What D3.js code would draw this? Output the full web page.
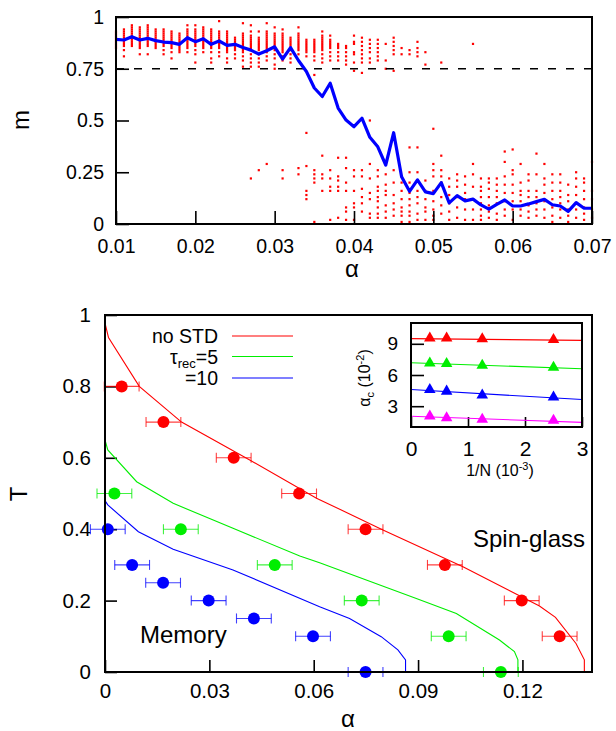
<!DOCTYPE html>
<html>
<head>
<meta charset="utf-8">
<script src="https://cdn.jsdelivr.net/npm/d3@7"></script>
<style>
  body { margin: 0; background: #fff; }
  text { font-family: "Liberation Sans", Arial, Helvetica, sans-serif; }
</style>
</head>
<body>
<svg id="fig" width="616" height="731"></svg>
<script>
// ---- top panel: m vs alpha (alpha in units of 1e-3) ----
var alphaK = [10,11,12,13,14,15,16,17,18,19,20,21,22,23,24,25,26,27,28,29,30,
              31,32,33,34,35,36,37,38,39,40,41,42,43,44,45,46,47,48,49,50,
              51,52,53,54,55,56,57,58,59,60,61,62,63,64,65,66,67,68,69,70];
var meanM = [0.892,0.889,0.905,0.889,0.897,0.886,0.879,0.876,0.868,0.900,0.881,
             0.895,0.868,0.884,0.863,0.868,0.853,0.840,0.821,0.837,0.856,
             0.797,0.852,0.790,0.737,0.657,0.616,0.680,0.560,0.502,0.470,
             0.511,0.419,0.373,0.285,0.441,0.228,0.158,0.213,0.155,0.147,
             0.200,0.102,0.137,0.112,0.120,0.092,0.072,0.095,0.116,0.087,
             0.087,0.097,0.108,0.119,0.093,0.087,0.061,0.103,0.076,0.076];
// single runs, m x 100, one string per alpha column
var runs = [
  "85 86 87 88 89 90 91 92 93",
  "81 84 86 87 88 89 90 91 92 93 94",
  "86 87 88 89 90 91 92 93 94 95 96",
  "82 85 86 87 88 89 90 91 92 93 94 95",
  "82 86 87 88 89 90 91 92 93 94 95 96",
  "85 86 87 88 89 90 91 92 93 94",
  "82 84 86 87 88 89 90 91 92 93 94",
  "80 83 85 86 87 88 89 90 91 92 93",
  "83 84 85 86 87 88 89 90 91 92",
  "83 85 86 87 88 89 90 91 92 93 94 96",
  "78 82 84 86 87 88 89 90 91 92 93 94 96",
  "83 85 86 87 88 89 90 91 92 93 94 95",
  "78 80 83 85 86 87 88 89 90 91 92 93 94",
  "81 83 85 86 87 88 89 90 91 92 93 98",
  "78 80 83 84 85 86 87 88 89 90 91 92 93",
  "80 82 84 85 86 87 88 89 90",
  "76 79 81 83 84 85 86 87 88 89 90 91 92 97",
  "76 78 80 82 84 85 86 87 88 89 90 91 93 96 22",
  "76 78 80 82 84 85 86 87 88 89 90 93 26",
  "79 81 83 84 85 86 87 88 89 90 91 92 93 97 29",
  "75 77 80 82 84 85 86 87 88 89 90 91 92 95",
  "79 81 83 84 85 86 87 88 89 90 91 92 94 26 22",
  "78 80 82 84 85 86 87 88 89 90",
  "82 84 85 86 87 88 89 90 91 92 95 27 24",
  "81 83 84 85 86 87 88 89 44 28 16 14 12",
  "72 79 81 83 84 85 86 87 88 89 26 24 22 20 1",
  "78 80 82 84 85 86 87 88 89 90 91 93 33 24 22 16",
  "79 81 83 85 86 87 88 89 91 26 22 18 16 2",
  "79 81 83 85 86 87 32 23 21 18 16 3",
  "77 79 81 83 85 86 32 27 20 16 8 6 2",
  "74 78 82 83 87 88 91 26 23 16 10 8 2",
  "73 78 80 82 84 86 88 90 26 23 17 13 10 6",
  "78 80 83 85 87 89 50 29 22 15 12 5 3",
  "79 81 83 85 87 89 26 23 18 16 13 11 8 5 3",
  "75 79 87 24 19 16 14 9 6 3",
  "74 82 84 86 88 90 26 20 14 10 7 4",
  "82 85 23 20 16 12 8 6 4 1",
  "82 84 37 25 20 15 12 9 6 4 1",
  "81 83 85 88 37 25 21 16 13 10 5 2",
  "77 83 21 16 12 8 6 2",
  "46 29 26 23 16 11 7 4 2",
  "78 33 26 23 20 13 9 5",
  "22 18 14 10 6 2",
  "24 21 18 13 8 3",
  "23 19 15 12 7 2",
  "87 29 24 18 12 7 2",
  "22 18 16 13 10 7 4 2",
  "22 20 17 13 9 6 3",
  "22 19 16 13 10 5 2",
  "35 30 23 19 15 11 7 4",
  "36 26 24 19 15 11 7 2",
  "29 20 16 14 11 7 4",
  "24 21 16 13 9 6 3",
  "34 24 16 13 10 7 4",
  "29 22 19 15 11 7 3",
  "24 20 16 12 8 4 1",
  "24 20 16 13 10 7 3",
  "19 14 11 7 4 1",
  "25 22 18 14 10 7 3",
  "22 20 16 12 8 5 2",
  "30 16 12 7 3"
];
var topXTicks = [0.01,0.02,0.03,0.04,0.05,0.06,0.07];
var topYTicks = [0,0.25,0.5,0.75,1];
var threshold = 0.75;

// ---- bottom panel: phase diagram ----
var curveNoSTD = [[0,0.977],[0.001,0.937],[0.00985,0.8],[0.022,0.70],[0.0416,0.594],
  [0.0608,0.487],[0.0799,0.398],[0.1029,0.295],[0.1249,0.185],[0.1295,0.153],
  [0.1354,0.080],[0.1378,0.034],[0.1378,0]];
var curveTau5 = [[0,0.65],[0.0008,0.622],[0.0091,0.533],[0.0196,0.4725],[0.0368,0.4025],
  [0.056,0.325],[0.0617,0.306],[0.0895,0.206],[0.101,0.164],[0.1134,0.0896],
  [0.1177,0.057],[0.1187,0.034],[0.1187,0]];
var curveTau10 = [[0,0.48],[0.0008,0.468],[0.0096,0.393],[0.0196,0.344],[0.0368,0.286],
  [0.0617,0.183],[0.0703,0.150],[0.0794,0.099],[0.0842,0.062],[0.0864,0.034],[0.0864,0]];

var ptsNoSTD_T = [0.8,0.7,0.6,0.5,0.4,0.3,0.2,0.1];
var ptsNoSTD_a = [0.0048,0.0168,0.037,0.0558,0.0749,0.0977,0.1198,0.1307];
var ptsTau5_T = [0.5,0.4,0.3,0.2,0.1,0];
var ptsTau5_a = [0.0027,0.0218,0.0488,0.0738,0.0988,0.1138];
var ptsTau10_T = [0.4,0.3,0.25,0.2,0.15,0.1,0];
var ptsTau10_a = [0.0008,0.0078,0.0167,0.0298,0.0428,0.0598,0.0749];
var alphaErr = 0.005;
var botXTicks = [0,0.03,0.06,0.09,0.12];
var botXLabels = ["0","0.03","0.06","0.09","0.12"];
var botYTicks = [0,0.2,0.4,0.6,0.8,1];

// ---- inset: alpha_c (1e-2) vs 1/N (1e-3) ----
var invN = [0.33,0.625,1.25,2.5];
var acRed = [9.63,9.63,9.57,9.50];
var acGreen = [7.24,7.18,7.02,6.83];
var acBlue = [4.69,4.53,4.15,3.96];
var acMagenta = [2.14,1.98,1.83,1.73];
var fitRed = [[0,9.50],[3,9.33]];
var fitGreen = [[0,7.18],[3,6.60]];
var fitBlue = [[0,4.60],[3,3.64]];
var fitMagenta = [[0,2.04],[3,1.44]];
var insetXTicks = [0,1,2,3];
var insetYTicks = [3,6,9];

var svg = d3.select("#fig");

function frame(x0, y0, x1, y1) {
  svg.append("rect").attr("x", x0).attr("y", y0)
    .attr("width", x1 - x0).attr("height", y1 - y0)
    .attr("fill", "none").attr("stroke", "#000").attr("stroke-width", 2);
}
function styleAxis(g, size) {
  g.select(".domain").remove();
  g.selectAll(".tick line").attr("stroke", "#000").attr("stroke-width", 1.6);
  g.selectAll(".tick text").attr("fill", "#000").style("font-size", size + "px");
}

// ================= TOP =================
var x1 = d3.scaleLinear().domain([0.01, 0.07]).range([116, 592]);
var y1 = d3.scaleLinear().domain([0, 1]).range([224, 17]);

var dots = [];
runs.forEach(function(s, i) {
  s.split(" ").forEach(function(v) { dots.push({a: alphaK[i] / 1000, m: +v / 100}); });
});
svg.append("g").selectAll("rect").data(dots).enter().append("rect")
  .attr("x", function(d) { return x1(d.a) - 1.1; })
  .attr("y", function(d) { return y1(d.m) - 1.1; })
  .attr("width", 2.2).attr("height", 2.2)
  .attr("fill", "#ff0000");

svg.append("line")
  .attr("x1", x1(0.01)).attr("x2", x1(0.07))
  .attr("y1", y1(threshold)).attr("y2", y1(threshold))
  .attr("stroke", "#000").attr("stroke-width", 1.3)
  .attr("stroke-dasharray", "8,10");

svg.append("path")
  .datum(alphaK.map(function(a, i) { return [a / 1000, meanM[i]]; }))
  .attr("fill", "none").attr("stroke", "#0000ff").attr("stroke-width", 3.2)
  .attr("stroke-linejoin", "round")
  .attr("d", d3.line().x(function(d) { return x1(d[0]); }).y(function(d) { return y1(d[1]); }));

svg.append("g").attr("transform", "translate(0,224)")
  .call(d3.axisBottom(x1).tickValues(topXTicks).tickSize(-13).tickPadding(15)
    .tickFormat(d3.format(".2f")))
  .call(function(g) { styleAxis(g, 19.5); });
svg.append("g").attr("transform", "translate(116,0)")
  .call(d3.axisLeft(y1).tickValues(topYTicks).tickSize(-13).tickPadding(12)
    .tickFormat(function(d) { return String(d); }))
  .call(function(g) { styleAxis(g, 19.5); });
frame(116, 17, 592, 224);

svg.append("text").attr("transform", "translate(29,120) rotate(-90)")
  .attr("text-anchor", "middle").style("font-size", "24px").text("m");
svg.append("text").attr("x", 352).attr("y", 277)
  .attr("text-anchor", "middle").style("font-size", "24px").text("α");

// ================= BOTTOM =================
var x2 = d3.scaleLinear().domain([0, 0.14]).range([105, 592]);
var y2 = d3.scaleLinear().domain([0, 1]).range([672, 315]);
var line2 = d3.line().x(function(d) { return x2(d[0]); }).y(function(d) { return y2(d[1]); });

svg.append("g").attr("transform", "translate(0,672)")
  .call(d3.axisBottom(x2).tickValues(botXTicks).tickSize(-12).tickPadding(11)
    .tickFormat(function(d, i) { return botXLabels[i]; }))
  .call(function(g) { styleAxis(g, 20.5); });
svg.append("g").attr("transform", "translate(105,0)")
  .call(d3.axisLeft(y2).tickValues(botYTicks).tickSize(-12).tickPadding(14)
    .tickFormat(function(d) { return String(d); }))
  .call(function(g) { styleAxis(g, 20.5); });

var series = [
  {curve: curveNoSTD, T: ptsNoSTD_T, a: ptsNoSTD_a, color: "#ff0000"},
  {curve: curveTau5, T: ptsTau5_T, a: ptsTau5_a, color: "#00ee00"},
  {curve: curveTau10, T: ptsTau10_T, a: ptsTau10_a, color: "#0000ff"}
];
series.forEach(function(s) {
  svg.append("path").datum(s.curve).attr("fill", "none")
    .attr("stroke", s.color).attr("stroke-width", 1.1).attr("d", line2);
  var pts = s.a.map(function(a, i) { return {a: a, T: s.T[i]}; });
  var g = svg.append("g").attr("stroke", s.color).attr("stroke-width", 1.1)
    .attr("stroke-opacity", 0.75);
  pts.forEach(function(p) {
    var xl = x2(p.a - alphaErr), xr = x2(p.a + alphaErr), yy = y2(p.T);
    g.append("line").attr("x1", xl).attr("x2", xr).attr("y1", yy).attr("y2", yy);
    g.append("line").attr("x1", xl).attr("x2", xl).attr("y1", yy - 5).attr("y2", yy + 5);
    g.append("line").attr("x1", xr).attr("x2", xr).attr("y1", yy - 5).attr("y2", yy + 5);
  });
  svg.append("g").selectAll("circle").data(pts).enter().append("circle")
    .attr("cx", function(d) { return x2(d.a); })
    .attr("cy", function(d) { return y2(d.T); })
    .attr("r", 6).attr("fill", s.color);
});
frame(105, 315, 592, 672);

// legend
var legRows = [343, 363.5, 385];
svg.append("text").attr("x", 218).attr("y", legRows[0]).attr("text-anchor", "end")
  .style("font-size", "19.5px").text("no STD");
var t5 = svg.append("text").attr("x", 218).attr("y", legRows[1]).attr("text-anchor", "end")
  .style("font-size", "19.5px");
t5.append("tspan").text("τ");
t5.append("tspan").attr("dy", 4).style("font-size", "13px").text("rec");
t5.append("tspan").attr("dy", -4).text("=5");
svg.append("text").attr("x", 218).attr("y", legRows[2]).attr("text-anchor", "end")
  .style("font-size", "19.5px").text("=10");
series.forEach(function(s, i) {
  svg.append("line").attr("x1", 232).attr("x2", 293)
    .attr("y1", legRows[i] - 7).attr("y2", legRows[i] - 7)
    .attr("stroke", s.color).attr("stroke-width", 1.1);
});

svg.append("text").attr("x", 585).attr("y", 547).attr("text-anchor", "end")
  .style("font-size", "24px").text("Spin-glass");
svg.append("text").attr("x", 140).attr("y", 643).style("font-size", "24px").text("Memory");

svg.append("text").attr("transform", "translate(27,494) rotate(-90)")
  .attr("text-anchor", "middle").style("font-size", "24px").text("T");
svg.append("text").attr("x", 348).attr("y", 727)
  .attr("text-anchor", "middle").style("font-size", "24px").text("α");

// ================= INSET =================
var xi = d3.scaleLinear().domain([0, 3]).range([411, 582]);
var yi = d3.scaleLinear().domain([1, 11]).range([427, 323]);
var linei = d3.line().x(function(d) { return xi(d[0]); }).y(function(d) { return yi(d[1]); });

svg.append("rect").attr("x", 411).attr("y", 323).attr("width", 171).attr("height", 104)
  .attr("fill", "#fff");
svg.append("g").attr("transform", "translate(0,427)")
  .call(d3.axisBottom(xi).tickValues(insetXTicks).tickSize(-10).tickPadding(14)
    .tickFormat(d3.format("d")))
  .call(function(g) { styleAxis(g, 21); });
svg.append("g").attr("transform", "translate(411,0)")
  .call(d3.axisLeft(yi).tickValues(insetYTicks).tickSize(-13).tickPadding(13)
    .tickFormat(d3.format("d")))
  .call(function(g) { styleAxis(g, 19); });

var insetSeries = [
  {fit: fitRed, y: acRed, color: "#ff0000"},
  {fit: fitGreen, y: acGreen, color: "#00ee00"},
  {fit: fitBlue, y: acBlue, color: "#0000ff"},
  {fit: fitMagenta, y: acMagenta, color: "#ff00ff"}
];
var tri = d3.symbol().type(d3.symbolTriangle).size(58);
insetSeries.forEach(function(s) {
  svg.append("path").datum(s.fit).attr("fill", "none")
    .attr("stroke", s.color).attr("stroke-width", 1.1).attr("d", linei);
  svg.append("g").selectAll("path").data(s.y).enter().append("path")
    .attr("d", tri)
    .attr("transform", function(d, i) { return "translate(" + xi(invN[i]) + "," + (yi(d) + 1) + ")"; })
    .attr("fill", s.color);
});
frame(411, 323, 582, 427);

var xl = svg.append("text").attr("x", 500).attr("y", 476).attr("text-anchor", "middle")
  .style("font-size", "16px");
xl.append("tspan").text("1/N (10");
xl.append("tspan").attr("dy", -6).style("font-size", "11px").text("-3");
xl.append("tspan").attr("dy", 6).text(")");

var yl = svg.append("text").attr("transform", "translate(370,378) rotate(-90)")
  .attr("text-anchor", "middle").style("font-size", "16px");
yl.append("tspan").text("α");
yl.append("tspan").attr("dy", 4).style("font-size", "11px").text("c");
yl.append("tspan").attr("dy", -4).text(" (10");
yl.append("tspan").attr("dy", -6).style("font-size", "11px").text("-2");
yl.append("tspan").attr("dy", 6).text(")");
</script>
</body>
</html>
